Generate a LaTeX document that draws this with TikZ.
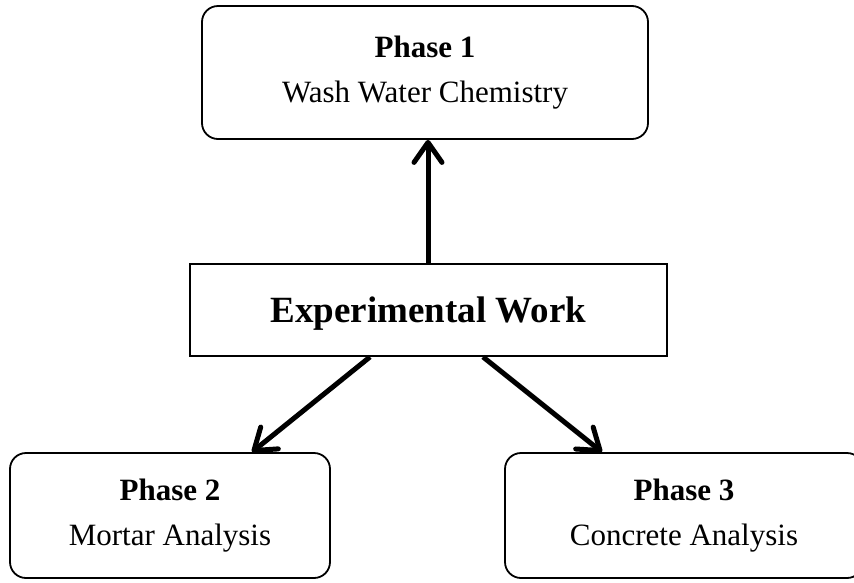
\documentclass[tikz,border=0pt]{standalone}
\usepackage{fontspec}
\setmainfont{Liberation Serif}
\usetikzlibrary{arrows.meta}

\begin{document}
\begin{tikzpicture}[x=1pt, y=-1pt,
    every node/.style={font=\fontsize{31}{45}\selectfont},
    phasebox/.style={draw, line width=1.8pt, rounded corners=16pt, align=center, inner sep=0pt},
    flow/.style={-{Straight Barb[length=20pt, width=28pt, line cap=round, line join=round]}, line width=5pt}]
    \useasboundingbox (0,0) rectangle (854,582);

    % Experimental work
    \node[draw, line width=1.8pt, minimum width=477pt, minimum height=92pt, inner sep=0pt, text depth=0pt,
          font=\fontsize{37}{44}\selectfont\bfseries] (work) at (428.5,310) {Experimental Work};

    % Phase 1
    \node[phasebox, minimum width=446pt, minimum height=133pt] (ph1) at (425,72.5) {\textbf{Phase 1}\\Wash Water Chemistry};

    % Phase 2
    \node[phasebox, minimum width=320pt, minimum height=125pt] (ph2) at (170,515.5) {\textbf{Phase 2}\\Mortar Analysis};

    % Phase 3
    \node[phasebox, minimum width=358pt, minimum height=125pt] (ph3) at (684,515.5) {\textbf{Phase 3}\\Concrete Analysis};

    % Connections
    \draw[flow] (work.north -| 428,0) -- (ph1.south -| 428,0);
    \draw[flow] ([xshift=-58.5pt]work.south) -- ([xshift=82pt]ph2.north);
    \draw[flow] ([xshift=54.5pt]work.south) -- ([xshift=-82pt]ph3.north);
\end{tikzpicture}
\end{document}
